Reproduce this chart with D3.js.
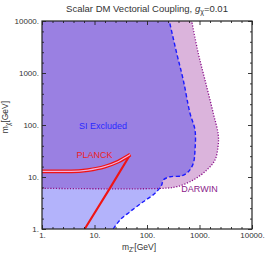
<!DOCTYPE html>
<html>
<head>
<meta charset="utf-8">
<style>
    body { margin: 0; background: #fff; }
    svg { position: absolute; left: 0; top: 0; font-family: "Liberation Sans", Arial, sans-serif; }
    .axis path { stroke-width: 0; }
    .axis line { stroke: #222; stroke-width: 0.9; }
    .axis text { fill: #333; font-size: 8px; }
</style>
</head>
<body>
<script src="https://cdn.jsdelivr.net/npm/d3@7"></script>
<script>
    // axis ticks
    var majorTicks = [1, 10, 100, 1000, 10000];
    var tickLabels = ["1.", "10.", "100.", "1000.", "10000."];

    // SI excluded boundary (blue dashed), [mZ', mchi]
    var siBoundary = [
        [22.8, 1], [30.6, 1.49], [47.5, 2.15], [85, 3.35], [142, 4.86], [190, 7.0],
        [204, 8.75], [274, 10.1], [458, 10.5], [612, 12.6], [762, 18.3], [821, 33],
        [821, 80], [659, 168], [491, 733], [368, 2393], [266, 10000]
    ];

    // DARWIN projected reach (purple dotted)
    var darwinBoundary = [
        [1, 6.06], [202, 6.06], [368, 6.5], [762, 8.75], [1371, 13.6], [1973, 21.2],
        [2250, 37.8], [2280, 64], [1833, 168], [1273, 733], [948, 2393], [710, 10000]
    ];

    // PLANCK relic density curve
    var planckBand = [[1, 12.8], [3.6, 12.8], [7.5, 13.6], [15.6, 15.8], [28, 19.7], [48, 27]];
    var planckBranch = [[48, 27], [19.7, 6.1], [6.5, 1]];

    var W = 266, H = 254;
    var svg = d3.select('body').append('svg').attr('width', W).attr('height', H);

    var x = d3.scaleLog().domain([1, 10000]).range([42, 252]);
    var y = d3.scaleLog().domain([1, 10000]).range([229, 21]);

    var minorTicks = [];
    majorTicks.slice(0, -1).forEach(function (t) {
        for (var k = 1; k < 5; k++) minorTicks.push(t * Math.pow(10, k / 5));
    });

    var defs = svg.append('defs');
    defs.append('clipPath').attr('id', 'plotclip').append('rect')
        .attr('x', 42).attr('y', 21).attr('width', 210).attr('height', 208);

    var line = d3.line().x(function (d) { return x(d[0]); }).y(function (d) { return y(d[1]); });
    var smooth = d3.line().curve(d3.curveCatmullRom.alpha(0.5))
        .x(function (d) { return x(d[0]); }).y(function (d) { return y(d[1]); });
    var bandLine = d3.line().curve(d3.curveMonotoneX)
        .x(function (d) { return x(d[0]); }).y(function (d) { return y(d[1]); });

    defs.append('clipPath').attr('id', 'darwinclip').append('path')
        .attr('d', smooth(darwinBoundary) + 'L' + x(1) + ',' + y(10000) + 'Z');

    var plot = svg.append('g').attr('clip-path', 'url(#plotclip)');

    var siPath = smooth(siBoundary) + 'L' + x(1) + ',' + y(10000) + 'L' + x(1) + ',' + y(1) + 'Z';
    plot.append('path').attr('d', siPath).attr('fill', '#b3b3fb');
    plot.append('path').attr('d', smooth(darwinBoundary) + 'L' + x(1) + ',' + y(10000) + 'Z')
        .attr('fill', '#dbb4dc');
    plot.append('path').attr('d', siPath).attr('fill', '#9a80e2')
        .attr('clip-path', 'url(#darwinclip)');

    plot.append('path').attr('d', smooth(siBoundary))
        .attr('fill', 'none').attr('stroke', '#1a1aff').attr('stroke-width', 1.4)
        .attr('stroke-dasharray', '4,2.5');
    plot.append('path').attr('d', smooth(darwinBoundary))
        .attr('fill', 'none').attr('stroke', '#8a108a').attr('stroke-width', 1.3)
        .attr('stroke-dasharray', '1.2,1.6');

    plot.append('path').attr('d', line(planckBranch))
        .attr('fill', 'none').attr('stroke', '#f01414').attr('stroke-width', 2.1);
    plot.append('path').attr('d', bandLine(planckBand))
        .attr('fill', 'none').attr('stroke', '#f01414').attr('stroke-width', 3.7);
    plot.append('path').attr('d', bandLine(planckBand))
        .attr('fill', 'none').attr('stroke', '#f0b0e0').attr('stroke-width', 1.2);

    // labels inside the plot
    plot.append('text').attr('x', x(14.5)).attr('y', y(100) + 3.5).attr('text-anchor', 'middle')
        .attr('font-size', 9).attr('fill', '#2a2aff').text('SI Excluded');
    plot.append('text').attr('x', x(10)).attr('y', y(26.5) + 3.5).attr('text-anchor', 'middle')
        .attr('font-size', 9).attr('fill', '#ee1c24').text('PLANCK');
    plot.append('text').attr('x', x(1000)).attr('y', y(6.1) + 3.5).attr('text-anchor', 'middle')
        .attr('font-size', 9).attr('fill', '#8a1a8a').text('DARWIN');

    // axes: major + minor ticks on all four sides, pointing inward
    function addAxis(axisFn, scale, tr, labels) {
        var ax = axisFn(scale).tickValues(majorTicks).tickSize(-4).tickPadding(3)
            .tickFormat(function (d, i) { return labels ? tickLabels[i] : ''; });
        svg.append('g').attr('class', 'axis').attr('transform', tr).call(ax);
        var mx = axisFn(scale).tickValues(minorTicks).tickSize(-2).tickFormat('');
        svg.append('g').attr('class', 'axis').attr('transform', tr).call(mx);
    }
    addAxis(d3.axisBottom, x, 'translate(0,229)', true);
    addAxis(d3.axisTop, x, 'translate(0,21)', false);
    addAxis(d3.axisLeft, y, 'translate(42,0)', true);
    addAxis(d3.axisRight, y, 'translate(252,0)', false);

    svg.append('rect').attr('x', 42).attr('y', 21).attr('width', 210).attr('height', 208)
        .attr('fill', 'none').attr('stroke', '#222').attr('stroke-width', 1.2);

    // title
    var title = svg.append('text').attr('x', 147).attr('y', 12).attr('text-anchor', 'middle')
        .attr('font-size', 9.5).attr('fill', '#333');
    title.append('tspan').text('Scalar DM Vectorial Coupling, ');
    title.append('tspan').attr('font-style', 'italic').text('g');
    title.append('tspan').attr('font-size', 7).attr('dy', 2).text('χ');
    title.append('tspan').attr('dy', -2).text('=0.01');

    // axis titles
    var xl = svg.append('text').attr('x', 139).attr('y', 250).attr('text-anchor', 'middle')
        .attr('font-size', 8.5).attr('fill', '#333');
    xl.append('tspan').text('m');
    xl.append('tspan').attr('font-size', 6.5).attr('dy', 2).text("Z'");
    xl.append('tspan').attr('dy', -2).text('[GeV]');

    var yl = svg.append('text').attr('transform', 'translate(8,117) rotate(-90)')
        .attr('text-anchor', 'middle').attr('font-size', 8.5).attr('fill', '#333');
    yl.append('tspan').text('m');
    yl.append('tspan').attr('font-size', 6.5).attr('dy', 2).text('χ');
    yl.append('tspan').attr('dy', -2).text('[GeV]');
</script>
</body>
</html>
